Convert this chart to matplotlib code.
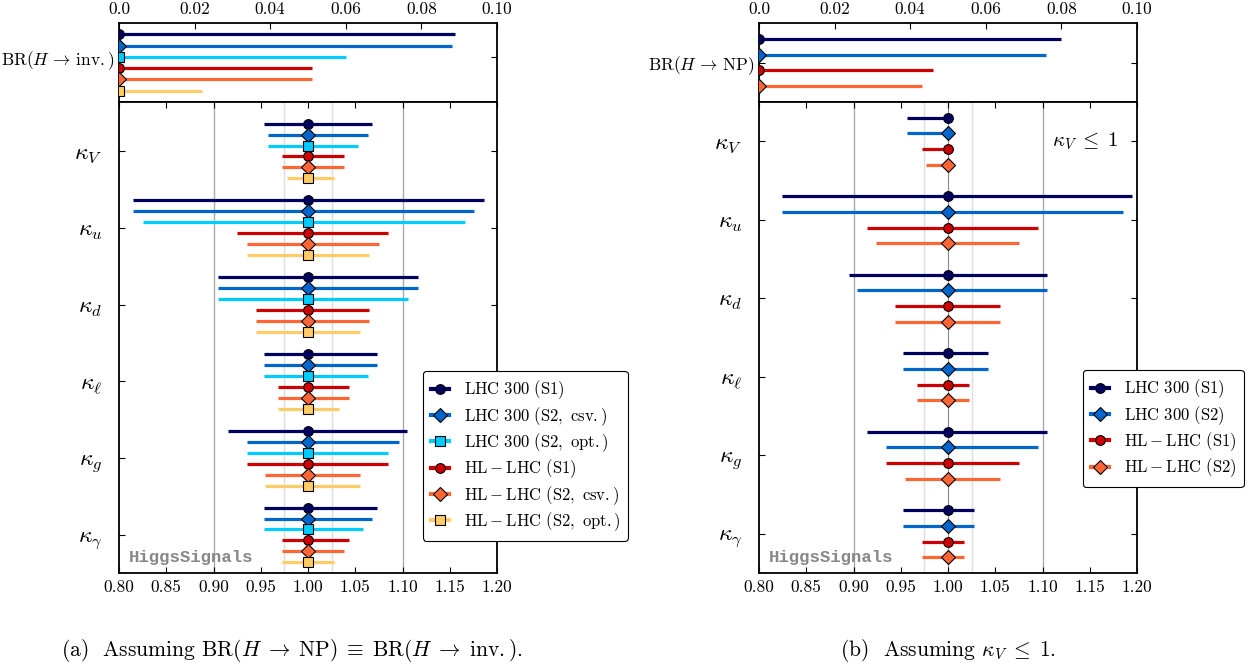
import matplotlib
matplotlib.use('Agg')
import matplotlib.pyplot as plt
import numpy as np
from matplotlib.lines import Line2D

plt.rcParams['mathtext.fontset'] = 'cm'
plt.rcParams['font.family'] = 'serif'
plt.rcParams['font.serif'] = ['cmr10', 'DejaVu Serif']
plt.rcParams['axes.unicode_minus'] = False
plt.rcParams['axes.formatter.use_mathtext'] = True

# --- data (a) ---
couplings = [r'$\kappa_V$', r'$\kappa_u$', r'$\kappa_d$', r'$\kappa_\ell$', r'$\kappa_g$', r'$\kappa_\gamma$']

labels_a = [r'$\mathrm{LHC\ 300\ (S1)}$', r'$\mathrm{LHC\ 300\ (S2,\ csv.)}$', r'$\mathrm{LHC\ 300\ (S2,\ opt.)}$',
            r'$\mathrm{HL} - \mathrm{LHC\ (S1)}$', r'$\mathrm{HL} - \mathrm{LHC\ (S2,\ csv.)}$',
            r'$\mathrm{HL} - \mathrm{LHC\ (S2,\ opt.)}$']
colors_a = ['#000060', '#0066cc', '#00ccff', '#cc0000', '#ff6633', '#ffcc66']
markers_a = ['o', 'D', 's', 'o', 'D', 's']
br_inv = [0.089, 0.088, 0.060, 0.051, 0.051, 0.022]

# lower / upper ends, rows = couplings, cols = scenarios
lo_a = np.array([[0.953, 0.958, 0.958, 0.973, 0.973, 0.978],
                 [0.815, 0.815, 0.825, 0.925, 0.935, 0.935],
                 [0.905, 0.905, 0.905, 0.945, 0.945, 0.945],
                 [0.953, 0.953, 0.953, 0.968, 0.968, 0.968],
                 [0.915, 0.935, 0.935, 0.935, 0.955, 0.955],
                 [0.953, 0.953, 0.953, 0.973, 0.973, 0.973]])
hi_a = np.array([[1.068, 1.063, 1.053, 1.038, 1.038, 1.028],
                 [1.186, 1.176, 1.166, 1.085, 1.075, 1.065],
                 [1.116, 1.116, 1.106, 1.065, 1.065, 1.055],
                 [1.073, 1.073, 1.063, 1.043, 1.043, 1.033],
                 [1.105, 1.096, 1.085, 1.085, 1.055, 1.055],
                 [1.073, 1.068, 1.058, 1.043, 1.038, 1.028]])

# --- data (b) ---
labels_b = [r'$\mathrm{LHC\ 300\ (S1)}$', r'$\mathrm{LHC\ 300\ (S2)}$',
            r'$\mathrm{HL} - \mathrm{LHC\ (S1)}$', r'$\mathrm{HL} - \mathrm{LHC\ (S2)}$']
colors_b = ['#000060', '#0066cc', '#cc0000', '#ff6633']
markers_b = ['o', 'D', 'o', 'D']
br_np = [0.080, 0.076, 0.046, 0.043]

lo_b = np.array([[0.957, 0.957, 0.972, 0.977],
                 [0.824, 0.824, 0.914, 0.924],
                 [0.895, 0.904, 0.944, 0.944],
                 [0.952, 0.952, 0.967, 0.967],
                 [0.914, 0.934, 0.934, 0.955],
                 [0.952, 0.952, 0.972, 0.972]])
hi_b = np.array([[1.0, 1.0, 1.0, 1.0],
                 [1.195, 1.185, 1.095, 1.075],
                 [1.105, 1.105, 1.055, 1.055],
                 [1.042, 1.042, 1.022, 1.022],
                 [1.105, 1.095, 1.075, 1.055],
                 [1.027, 1.027, 1.017, 1.017]])

W, H = 1249, 670
fig = plt.figure(figsize=(W / 100, H / 100), dpi=100)

msize = {'o': 7, 'D': 7, 's': 6.5}


def make_panel(x0, br, br_label, lo, hi, colors, markers, labels, spacing, ylim, br_ylim, br_tick, leg_box):
    axt = fig.add_axes([x0 / W, 1 - 102 / H, 378 / W, 79 / H])
    axm = fig.add_axes([x0 / W, 1 - 573 / H, 378 / W, 471 / H])
    n = len(colors)

    # top panel: BR
    for k in range(n):
        yy = k + 1
        axt.plot([0, br[k]], [yy, yy], color=colors[k], lw=2.3, solid_capstyle='butt', zorder=2)
        axt.plot(0, yy, marker=markers[k], color=colors[k], mec='k', mew=0.8, ms=msize[markers[k]], zorder=3)
    axt.set_xlim(0, 0.1)
    axt.set_ylim(br_ylim)
    axt.invert_yaxis()
    axt.xaxis.tick_top()
    axt.set_xticks([0, 0.02, 0.04, 0.06, 0.08, 0.10])
    axt.set_xticklabels(['0.0', '0.02', '0.04', '0.06', '0.08', '0.10'])
    axt.set_yticks([br_tick])
    axt.set_yticklabels([br_label])
    axt.tick_params(axis='x', which='both', direction='in', top=True, bottom=False, labelsize=12.5, pad=4, length=4)
    axt.tick_params(axis='y', direction='in', left=True, right=True, labelsize=12.5, length=4, pad=3)
    for s in axt.spines.values():
        s.set_linewidth(1.3)

    # main panel: couplings
    for xv, c in [(0.9, '#aaaaaa'), (1.1, '#aaaaaa'), (0.975, '#dddddd'), (1.025, '#dddddd')]:
        axm.axvline(xv, color=c, lw=1.0, zorder=0)
    if n == 4:
        axm.axvline(1.0, color='#888888', lw=0.8, zorder=0)
    for g in range(len(couplings)):
        for k in range(n):
            yy = g + (k - (n - 1) / 2) * spacing
            axm.plot([lo[g, k], hi[g, k]], [yy, yy], color=colors[k], lw=2.3, solid_capstyle='butt', zorder=2)
            axm.plot(1.0, yy, marker=markers[k], color=colors[k], mec='k', mew=0.8, ms=msize[markers[k]], zorder=3)
    axm.set_xlim(0.8, 1.2)
    axm.set_ylim(ylim)
    axm.set_xticks(np.arange(0.8, 1.201, 0.05))
    axm.set_xticklabels(['%.2f' % v for v in np.arange(0.8, 1.201, 0.05)])
    axm.set_yticks(range(len(couplings)))
    axm.set_yticklabels(couplings)
    axm.tick_params(axis='x', direction='in', top=True, bottom=True, labelsize=12.5, length=4, pad=5)
    axm.tick_params(axis='y', direction='in', left=True, right=True, labelsize=17, length=4, pad=12)
    for s in axm.spines.values():
        s.set_linewidth(1.3)
    axm.text(0.81, ylim[0] - 0.1, 'HiggsSignals', family='Liberation Mono', weight='bold',
             color='#888888', fontsize=12.5, va='bottom', ha='left')

    handles = [Line2D([], [], color=colors[k], lw=3, marker=markers[k], mfc=colors[k], mec='k', mew=0.8,
                      ms=msize[markers[k]]) for k in range(n)]
    leg = fig.legend(handles, labels, loc='upper left', bbox_to_anchor=leg_box, bbox_transform=fig.transFigure,
                     fontsize=12, handlelength=1.1, labelspacing=0.22, borderpad=0.45, handletextpad=0.9,
                     borderaxespad=0, frameon=True, fancybox=True, framealpha=1, edgecolor='k')
    leg.get_frame().set_linewidth(0.8)
    return axt, axm


axt_a, axm_a = make_panel(119, br_inv, r'$\mathrm{BR}(H \,\rightarrow\, \mathrm{inv.})$', lo_a, hi_a,
                          colors_a, markers_a, labels_a, 1 / 7, (5.495, -0.638), (0, 7), 3.0,
                          (423 / W, 1 - 371 / H))
axt_b, axm_b = make_panel(759, br_np, r'$\mathrm{BR}(H \,\rightarrow\, \mathrm{NP})$', lo_b, hi_b,
                          colors_b, markers_b, labels_b, 0.2, (5.5, -0.5), (0, 5), 2.5,
                          (1083 / W, 1 - 370 / H))

axm_b.text(1.110, 0.0, r'$\kappa_V \;\leq\; 1$', fontsize=15, va='center', ha='left')

fig.text(292 / W, 1 - 651 / H,
         r'(a)  Assuming $\mathrm{BR}(H \;\rightarrow\; \mathrm{NP}) \;\equiv\; \mathrm{BR}(H \;\rightarrow\; \mathrm{inv.})$.',
         fontsize=15.5, ha='center', va='center')
fig.text(948 / W, 1 - 651 / H, r'(b)  Assuming $\kappa_V \;\leq\; 1$.', fontsize=15.5, ha='center', va='center')

fig.savefig('out.png', dpi=100)
